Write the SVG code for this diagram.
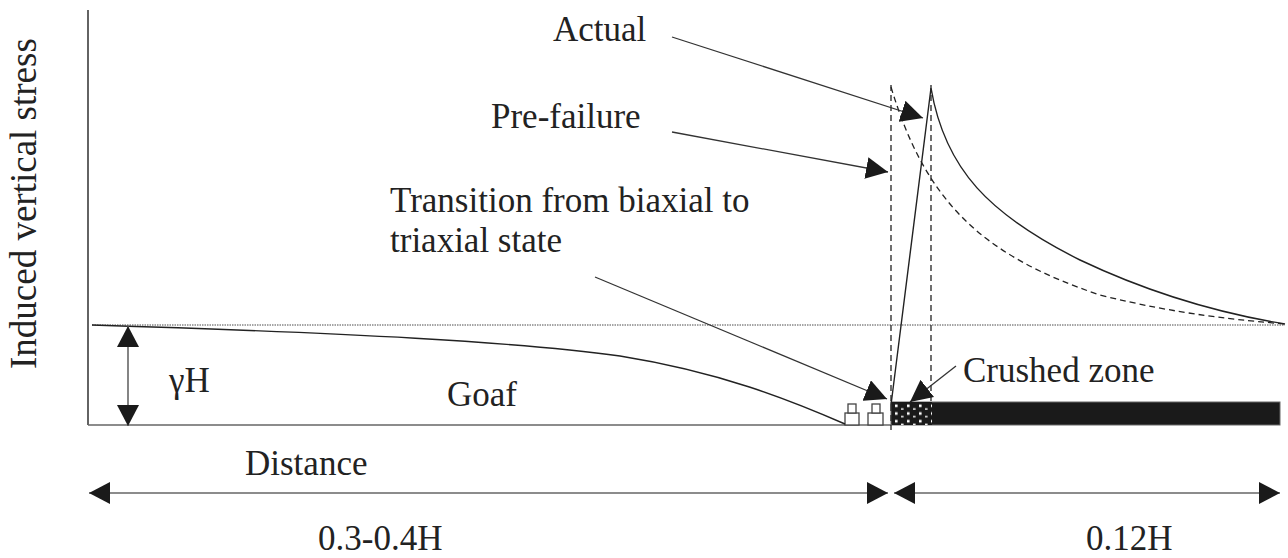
<svg xmlns="http://www.w3.org/2000/svg" width="1288" height="558" viewBox="0 0 1288 558">
<style>
text{font-family:'Liberation Serif','DejaVu Serif',serif;font-size:35px;fill:#222}
.ln{fill:none;stroke:#222;stroke-width:1.4}
.dash{fill:none;stroke:#222;stroke-width:1.3;stroke-dasharray:6,4}
.dot{fill:none;stroke:#888;stroke-width:1.3;stroke-dasharray:1.5,1}
.arr{fill:none;stroke:#333;stroke-width:1.3;marker-end:url(#ah)}
.dim{fill:none;stroke:#666;stroke-width:1.6}
</style>
<defs>
<marker id="ah" markerUnits="userSpaceOnUse" markerWidth="24" markerHeight="22" refX="22" refY="11" orient="auto">
<path d="M0,0 L22,11 L0,22 Z" fill="#1a1a1a"/>
</marker>
<marker id="ahs" markerUnits="userSpaceOnUse" markerWidth="22" markerHeight="22" refX="21" refY="11" orient="auto-start-reverse">
<path d="M0,0 L21,11 L0,22 Z" fill="#1a1a1a"/>
</marker>
<pattern id="dots" patternUnits="userSpaceOnUse" x="892" y="402" width="12" height="7.7">
<rect width="12" height="7.7" fill="#1a1a1a"/>
<rect x="3" y="2.5" width="2.6" height="2.6" fill="#fff"/>
<rect x="9" y="6.3" width="2.6" height="2.6" fill="#fff"/>
</pattern>
</defs>

<g id="axes">
<line class="ln" x1="88" y1="10" x2="88" y2="425" stroke="#444"/>
<line class="dim" x1="88" y1="425" x2="891" y2="425"/>
<line class="dot" x1="92" y1="325" x2="1285" y2="325"/>
</g>

<g id="ylabel">
<text transform="translate(36,369) rotate(-90)" font-family="Liberation Serif, DejaVu Serif, serif" style="font-size:37px">Induced vertical stress</text>
</g>

<g id="coal">
<rect id="solid-coal" x="891" y="402" width="389" height="23" fill="#1a1a1a" stroke="#666" stroke-width="1"/>
<rect id="crushed-zone" x="892" y="402" width="40" height="23" fill="url(#dots)"/>
</g>

<g id="supports" fill="#fff" stroke="#444" stroke-width="1.3">
<rect x="845" y="413" width="14" height="12"/>
<rect x="848" y="404" width="8" height="9"/>
<rect x="868" y="413" width="15" height="12"/>
<rect x="872" y="404" width="8" height="9"/>
</g>

<g id="curves">
<path id="goaf-curve" class="ln" d="M92,325 C350,333 520,342 620,356 C720,372 790,400 845,424"/>
<path id="actual" class="ln" d="M891,405 L931,88 C945,170 990,215 1080,260 C1160,298 1230,315 1285,324"/>
<path id="pre-failure" class="dash" d="M891,87 C925,200 980,255 1100,295 C1180,315 1240,320 1285,324"/>
<line class="dash" x1="891" y1="85" x2="891" y2="430"/>
<line class="dash" x1="931" y1="85" x2="931" y2="402"/>
</g>

<g id="connectors">
<line class="arr" x1="672" y1="37" x2="923" y2="118"/>
<line class="arr" x1="672" y1="132" x2="888" y2="172"/>
<line class="arr" x1="595" y1="277" x2="887" y2="399"/>
<line class="arr" x1="956" y1="366" x2="910" y2="402"/>
<line class="dim" x1="128" y1="326" x2="128" y2="426" marker-start="url(#ahs)" marker-end="url(#ahs)"/>
<line class="dim" x1="89" y1="493" x2="888" y2="493" marker-start="url(#ahs)" marker-end="url(#ahs)"/>
<line class="dim" x1="894" y1="493" x2="1280" y2="493" marker-start="url(#ahs)" marker-end="url(#ahs)"/>
</g>

<g id="labels">
<text x="553" y="41">Actual</text>
<text x="491" y="128">Pre-failure</text>
<text x="390" y="212">Transition from biaxial to</text>
<text x="390" y="252">triaxial state</text>
<text x="447" y="406">Goaf</text>
<text x="169" y="392">γH</text>
<text x="963" y="382">Crushed zone</text>
<text x="245" y="475">Distance</text>
<text x="318" y="550">0.3-0.4H</text>
<text x="1086" y="550">0.12H</text>
</g>
</svg>
